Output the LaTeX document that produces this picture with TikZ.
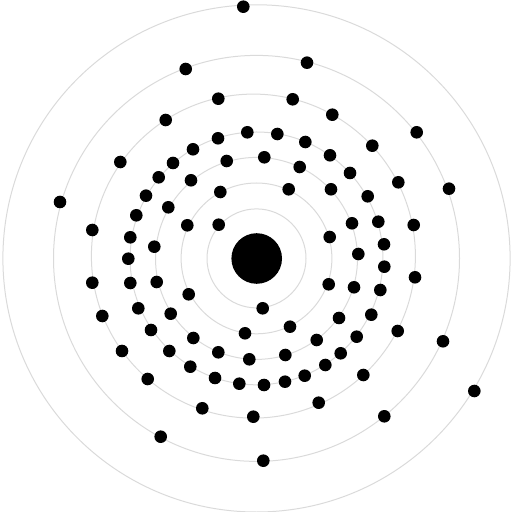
\documentclass[tikz,border=0pt]{standalone}
\usepackage{tikz}
\definecolor{orbitgray}{HTML}{DADADA}
\tikzset{
  orbit/.style={draw=orbitgray, line width=0.5pt},
  core/.style={fill=black},
  electron/.style={fill=black}
}

\begin{document}
\begin{tikzpicture}[x=0.5pt, y=-0.5pt]
  \useasboundingbox (0,0) rectangle (513,512);

  % shells
  \draw[orbit] (256.5,258.4) circle (24.75pt);
  \draw[orbit] (256.5,258.4) circle (37.7pt);
  \draw[orbit] (256.5,258.4) circle (50.5pt);
  \draw[orbit] (256.5,258.4) circle (63.2pt);
  \draw[orbit] (253.4,256.1) circle (81pt);
  \draw[orbit] (256.5,258.4) circle (101.5pt);
  \draw[orbit] (256.5,258.4) circle (126.8pt);

  % nucleus
  \fill[core] (256.7,258.5) circle (12.65pt);

  % shell 1
  \foreach \x/\y in {218.7/224.7, 262.7/308.3}
    \fill[electron] (\x,\y) circle (3.15pt);

  % shell 2
  \foreach \x/\y in {288.7/189.3, 220.3/192, 187.3/225.3, 329.7/237,
                     328.7/284.3, 188.7/294.3, 290/326.7, 245/333.3}
    \fill[electron] (\x,\y) circle (3.15pt);

  % shell 3
  \foreach \x/\y in {264.3/157.3, 226.7/161, 299.7/167, 191/180.3, 331/189.3,
                     168.3/207.3, 352/223.3, 154.3/246.7, 358.3/254, 156.7/282,
                     354/287.3, 170.7/313.7, 339/318, 193.3/338, 316.7/340,
                     218.3/352.3, 285.3/355, 249.3/359.3}
    \fill[electron] (\x,\y) circle (3.15pt);

  % shell 4
  \foreach \x/\y in {247.3/132.3, 277.3/134, 218/138.3, 305.3/142, 193/149.3,
                     330/155.3, 173/163, 350/173, 158.7/177.3, 146/195.7,
                     367.7/196.3, 136.3/215.3, 378.3/221.7, 130.3/237.3, 384/244.3,
                     128.3/258.7, 384.3/266.7, 130.3/283, 380.3/290, 138.3/308.3,
                     371.3/314.7, 151/330, 356.7/336.7, 169.3/351, 340.7/353.3,
                     325.3/365, 190.3/366.7, 304.7/375.7, 215/378, 285/381.7,
                     239.3/383.7, 264/385}
    \fill[electron] (\x,\y) circle (3.15pt);

  % shell 5
  \foreach \x/\y in {218.3/98.7, 292.7/99.3, 332.3/114.7, 165.7/120, 372.3/145.7,
                     120.3/162, 398.3/182.3, 413.7/225, 92.3/230, 415/277.3,
                     92.3/282.7, 102.3/316, 397.7/331, 122/351, 363.3/375,
                     147.7/379, 318.7/402.7, 202.3/408.3, 253.3/416.7}
    \fill[electron] (\x,\y) circle (3.15pt);

  % shell 6
  \foreach \x/\y in {307/62.7, 185.7/69, 416.7/132.3, 449/188.7, 60/202,
                     443/341.3, 384.3/416.3, 160.7/436.7, 263.3/460.7}
    \fill[electron] (\x,\y) circle (3.15pt);

  % shell 7
  \foreach \x/\y in {243.3/6.7, 474.3/391}
    \fill[electron] (\x,\y) circle (3.15pt);
\end{tikzpicture}
\end{document}
